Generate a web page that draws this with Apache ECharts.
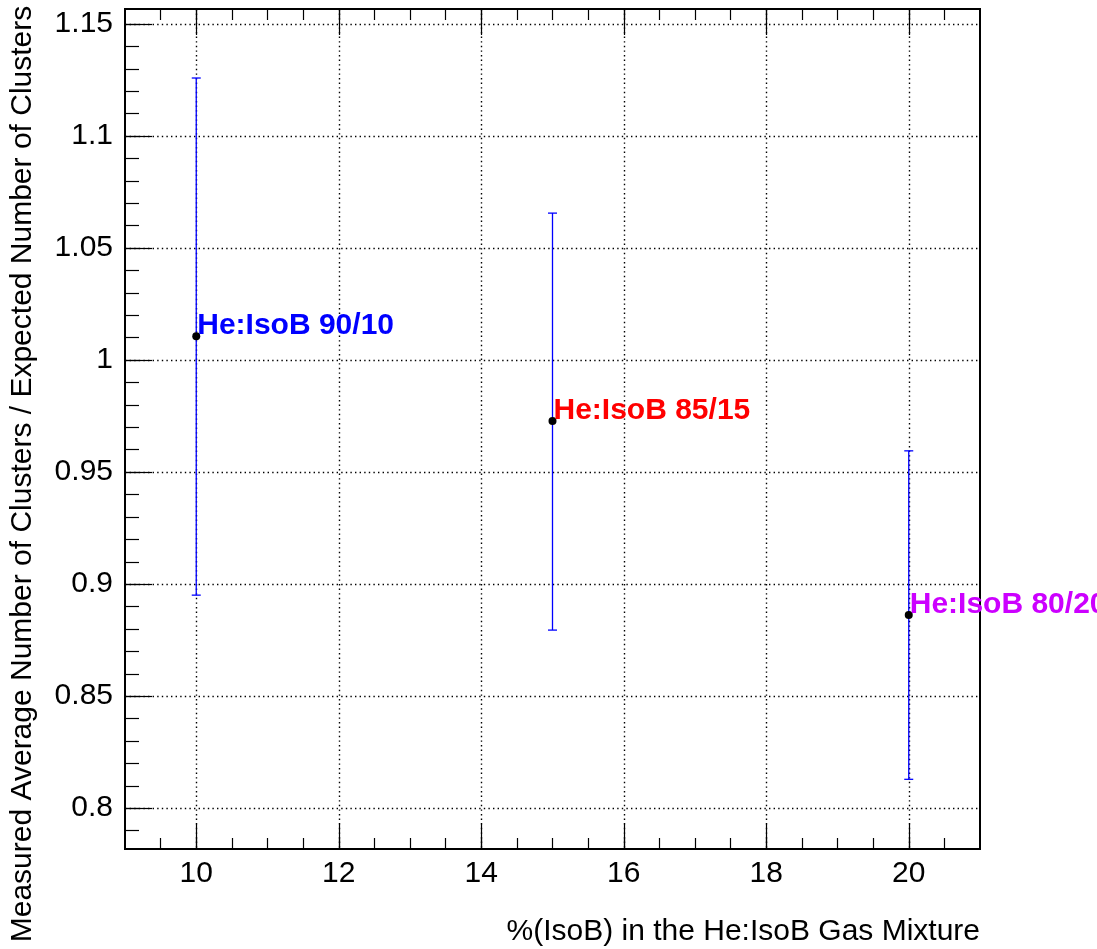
<!DOCTYPE html>
<html>
<head>
<meta charset="utf-8">
<script src="https://cdn.jsdelivr.net/npm/echarts@6/dist/echarts.min.js"></script>
<style>
  html, body { margin: 0; padding: 0; background: #fff; }
  #chart { width: 1097px; height: 949px; }
</style>
</head>
<body>
<div id="chart"></div>
<script>
// data
const xValues = [10, 15, 20];
const yValues = [1.0107, 0.9728, 0.8862];
const yErrHigh = [1.1259, 1.0656, 0.9595];
const yErrLow = [0.8951, 0.8795, 0.8129];
const pointLabels = ['He:IsoB 90/10', 'He:IsoB 85/15', 'He:IsoB 80/20'];
const labelColors = ['#0000ff', '#ff0000', '#cc00ff'];

// tick labels
const xTicks = [10, 12, 14, 16, 18, 20];
const yTicks = [0.8, 0.85, 0.9, 0.95, 1, 1.05, 1.1, 1.15];

// minor tick positions
const xMinor = [];
for (let i = 19; i <= 41; i++) xMinor.push(i / 2);
const yMinor = [];
for (let i = 79; i <= 115; i++) yMinor.push(i / 100);

const X_MIN = 9, X_MAX = 21;
const Y_MIN = 0.7818, Y_MAX = 1.1567;
const FONT = '"Liberation Sans", Arial, Helvetica, sans-serif';

const tickStyle = { color: '#000', width: 1.2 };
const gridDots = { color: '#000', width: 1.4, type: [1.4, 3.2] };

// helper for the extra axes that only carry ticks
const tickAxis = (pos, values, len, extra) => Object.assign({
  type: 'value', min: pos === 'left' ? Y_MIN : X_MIN, max: pos === 'left' ? Y_MAX : X_MAX,
  position: pos,
  axisLine: { show: false },
  axisTick: { show: true, inside: true, length: len, customValues: values, lineStyle: tickStyle },
  axisLabel: { show: false },
  splitLine: { show: false }
}, extra || {});

const chart = echarts.init(document.getElementById('chart'));

chart.setOption({
  animation: false,
  backgroundColor: '#fff',
  grid: {
    left: 125, right: 117, top: 9, bottom: 100,
    show: true, borderColor: '#000', borderWidth: 2, backgroundColor: 'transparent'
  },
  xAxis: [
    {
      type: 'value', min: X_MIN, max: X_MAX, position: 'bottom',
      axisLine: { show: false },
      axisTick: { show: true, inside: true, length: 26, customValues: xTicks, lineStyle: tickStyle },
      axisLabel: {
        customValues: xTicks, color: '#000', fontFamily: FONT, fontSize: 30, margin: 10,
        formatter: v => String(v)
      },
      splitLine: { show: true, lineStyle: gridDots },
      name: '%(IsoB) in the He:IsoB Gas Mixture',
      nameLocation: 'end', nameGap: 0,
      nameTextStyle: {
        color: '#000', fontFamily: FONT, fontSize: 30,
        align: 'right', verticalAlign: 'top', padding: [68, 0, 0, 0]
      }
    },
    tickAxis('bottom', xMinor, 11),
    tickAxis('top', xTicks, 26),
    tickAxis('top', xMinor, 11)
  ],
  yAxis: [
    {
      type: 'value', min: Y_MIN, max: Y_MAX, position: 'left',
      axisLine: { show: false },
      axisTick: { show: true, inside: true, length: 27, customValues: yTicks, lineStyle: tickStyle },
      axisLabel: {
        customValues: yTicks, color: '#000', fontFamily: FONT, fontSize: 30, margin: 12,
        formatter: v => String(v)
      },
      splitLine: { show: true, lineStyle: gridDots },
      name: 'Measured Average Number of Clusters / Expected Number of Clusters',
      nameLocation: 'middle', nameRotate: 90, nameGap: 87,
      nameTextStyle: {
        color: '#000', fontFamily: FONT, fontSize: 30,
        padding: [0, 90, 0, 0]
      }
    },
    tickAxis('left', yMinor, 14)
  ],
  series: [
    {
      type: 'custom',
      name: 'errors',
      xAxisIndex: 0, yAxisIndex: 0,
      data: xValues.map((x, i) => [x, yErrLow[i], yErrHigh[i]]),
      renderItem: (params, api) => {
        const lo = api.coord([api.value(0), api.value(1)]);
        const hi = api.coord([api.value(0), api.value(2)]);
        const cap = 4.5;
        const st = { stroke: '#0000ff', lineWidth: 1.3 };
        return {
          type: 'group',
          children: [
            { type: 'line', shape: { x1: lo[0], y1: lo[1], x2: hi[0], y2: hi[1] }, style: st },
            { type: 'line', shape: { x1: lo[0] - cap, y1: lo[1], x2: lo[0] + cap, y2: lo[1] }, style: st },
            { type: 'line', shape: { x1: hi[0] - cap, y1: hi[1], x2: hi[0] + cap, y2: hi[1] }, style: st }
          ]
        };
      },
      z: 3
    },
    {
      type: 'scatter',
      name: 'points',
      xAxisIndex: 0, yAxisIndex: 0,
      symbol: 'circle', symbolSize: 8,
      itemStyle: { color: '#000', opacity: 1 },
      data: xValues.map((x, i) => ({
        value: [x, yValues[i]],
        label: { color: labelColors[i] }
      })),
      label: {
        show: true,
        formatter: p => pointLabels[p.dataIndex],
        position: ['50%', '50%'],
        align: 'left', verticalAlign: 'bottom',
        offset: [1, 5],
        fontFamily: FONT, fontSize: 30, fontWeight: 'bold'
      },
      z: 5
    }
  ]
});
</script>
</body>
</html>
